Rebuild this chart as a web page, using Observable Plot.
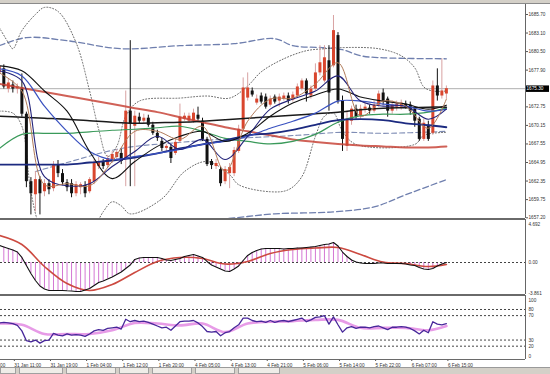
<!DOCTYPE html>
<html><head><meta charset="utf-8">
<script src="https://cdn.jsdelivr.net/npm/d3@7"></script>
<script src="https://cdn.jsdelivr.net/npm/@observablehq/plot@0.6"></script>
<style>
html,body{margin:0;padding:0;background:#fff;}
#wrap{position:relative;width:550px;height:374px;overflow:hidden;background:#fff;font-family:"Liberation Sans",Arial,sans-serif;}
#top{position:absolute;left:0;top:0;width:550px;height:3px;background:#d4d0c8;border-bottom:1px solid #8a8a8a;}
#main,#macd,#rsi{position:absolute;left:0;}
#main{top:0;} #macd{top:218px;} #rsi{top:294px;}
#tabs{position:absolute;left:0;top:367px;width:550px;height:7px;background:#d4d0c8;border-top:1px solid #9a9a9a;display:flex;}
.tab{height:5px;border:1px solid #a0a0a0;border-top:none;background:#efede8;margin-right:3px;}
</style></head><body>
<div id="wrap">
<div id="main"></div><div id="macd"></div><div id="rsi"></div>
<div id="top"></div>
<div id="tabs"><div class="tab" style="width:14px"></div><div class="tab" style="width:42px"></div><div class="tab" style="width:48px"></div><div class="tab" style="width:28px"></div><div class="tab" style="width:38px"></div><div class="tab" style="width:38px"></div><div class="tab" style="width:40px"></div></div>
</div>
<script>
// ---- price bars (H1) ----
const opens = [1677.51,1678.08,1675.25,1675.82,1675.25,1675.40,1671.72,1662.26,1660.43,1662.55,
1660.85,1661.98,1661.28,1664.52,1663.39,1662.12,1661.98,1660.57,1661.42,1661.70,
1660.85,1662.26,1664.38,1664.95,1664.52,1665.09,1665.65,1666.22,1665.37,1672.15,
1670.03,1671.30,1670.74,1671.16,1670.17,1669.04,1667.91,1666.92,1667.07,1666.22,
1667.91,1671.02,1670.74,1670.74,1671.58,1670.74,1668.19,1665.09,1664.38,1663.96,
1662.26,1663.39,1663.39,1666.50,1669.61,1673.98,1674.97,1673.28,1674.27,1674.12,
1672.99,1674.12,1673.56,1673.84,1674.27,1673.70,1674.27,1675.25,1676.38,1674.27,
1675.25,1677.51,1676.38,1679.21,1678.50,1682.74,1673.56,1667.21,1670.74,1672.43,
1671.44,1672.43,1672.57,1672.15,1672.99,1674.69,1673.84,1672.15,1672.71,1672.71,
1673.14,1672.99,1672.43,1671.02,1668.19,1670.17,1669.04,1675.68,1674.27,1674.55];
const closes = [1678.36,1675.54,1676.10,1675.25,1675.54,1671.72,1662.26,1660.57,1662.55,1660.57,
1661.98,1661.13,1664.52,1663.39,1662.12,1661.42,1660.57,1661.84,1661.84,1660.57,
1662.55,1664.81,1665.09,1664.38,1665.51,1666.08,1666.36,1665.09,1672.15,1670.31,
1671.44,1670.74,1671.16,1670.17,1669.04,1668.34,1666.92,1667.21,1665.51,1667.77,
1671.30,1671.44,1671.44,1671.87,1671.02,1668.19,1664.66,1664.52,1664.81,1661.98,
1663.96,1664.24,1666.64,1669.61,1675.40,1675.40,1674.41,1673.84,1673.42,1672.71,
1673.84,1673.42,1674.12,1674.27,1673.56,1674.41,1675.54,1676.38,1674.55,1675.25,
1677.51,1678.93,1679.63,1674.69,1683.44,1673.56,1668.19,1671.02,1672.43,1671.30,
1672.43,1672.71,1672.15,1672.99,1674.55,1673.56,1672.15,1672.99,1673.14,1673.28,
1672.71,1672.15,1670.74,1668.19,1670.45,1668.19,1675.68,1674.27,1674.97,1675.30];
const highs = [1678.93,1678.64,1676.67,1676.38,1675.96,1677.37,1672.01,1662.83,1663.68,1662.97,
1662.55,1662.55,1665.09,1665.23,1663.96,1662.55,1662.55,1662.26,1662.12,1662.26,
1662.83,1665.37,1665.65,1665.37,1665.94,1666.50,1666.78,1666.78,1674.97,1682.03,
1672.15,1671.87,1671.72,1671.58,1670.59,1669.47,1668.34,1667.49,1667.49,1668.19,
1673.14,1671.87,1671.87,1672.43,1672.71,1671.16,1668.48,1665.37,1665.37,1664.38,
1664.38,1664.81,1667.07,1670.17,1676.81,1677.51,1675.40,1674.41,1674.69,1674.55,
1674.27,1674.41,1674.55,1674.69,1674.69,1674.83,1675.96,1676.67,1676.67,1675.68,
1678.78,1681.33,1681.33,1681.33,1685.56,1683.16,1674.27,1672.15,1672.85,1672.99,
1672.99,1673.28,1672.99,1673.56,1674.97,1675.25,1674.12,1673.56,1673.56,1673.70,
1673.56,1673.42,1672.71,1671.30,1671.02,1670.74,1676.38,1678.08,1679.49,1675.68];
const lows = [1676.95,1675.25,1674.69,1674.69,1674.55,1671.30,1661.42,1657.60,1658.03,1657.60,
1660.15,1660.43,1660.85,1662.83,1661.70,1660.85,1660.01,1660.15,1660.43,1660.01,
1660.57,1661.84,1663.96,1663.96,1664.10,1664.81,1665.09,1664.66,1661.56,1661.56,
1661.56,1670.31,1670.45,1669.89,1668.76,1667.91,1666.50,1666.50,1664.81,1665.94,
1667.63,1670.74,1670.45,1670.45,1670.74,1667.91,1664.38,1663.96,1663.96,1661.56,
1661.84,1661.28,1662.97,1666.22,1669.32,1673.56,1674.12,1672.99,1673.14,1672.43,
1672.71,1673.14,1672.71,1673.56,1673.14,1673.42,1673.98,1674.97,1673.42,1673.84,
1674.97,1677.09,1676.10,1672.15,1678.22,1673.14,1666.50,1666.50,1670.17,1671.02,
1671.02,1671.87,1671.72,1671.87,1672.71,1672.99,1671.30,1671.72,1672.15,1672.29,
1672.43,1671.58,1669.89,1667.91,1667.91,1667.91,1668.76,1673.56,1673.84,1673.84];
const lastPrice = 1675.30;

// ---- moving averages, read every 5 bars ----
const maIdx = [0,5,10,15,20,25,30,35,40,45,50,55,60,65,70,75,80,85,90,95,99];
const maRedLong = [1675.96,1675.40,1674.83,1674.27,1673.70,1673.14,1672.57,1672.01,1671.30,1670.59,1669.89,1669.32,1668.76,1668.19,1667.84,1667.56,1667.35,1667.21,1667.07,1667.07,1667.21];
const maBlackLong = [1671.44,1671.30,1671.16,1671.02,1670.81,1670.59,1670.45,1670.52,1670.59,1670.74,1670.95,1671.16,1671.37,1671.58,1671.79,1672.01,1672.36,1672.57,1672.64,1672.71,1672.71];
const maGreen = [1666.92,1668.90,1669.04,1669.04,1669.25,1669.47,1669.61,1669.82,1670.03,1669.32,1668.34,1667.91,1667.56,1667.91,1668.90,1670.59,1671.51,1671.72,1671.72,1672.01,1672.57];
const maNavy = [1664.66,1664.66,1664.66,1664.66,1664.95,1665.23,1665.65,1666.22,1666.92,1667.49,1668.05,1668.76,1669.04,1669.54,1670.24,1670.88,1671.02,1670.88,1670.45,1670.17,1669.89];
const maBlueMid = [1678.08,1677.09,1672.85,1669.32,1666.50,1665.37,1665.79,1666.22,1666.78,1667.49,1667.91,1668.62,1669.75,1670.74,1671.87,1673.56,1673.56,1673.14,1672.85,1672.15,1672.43];
const maBlackMid = [1678.50,1677.80,1674.97,1672.15,1666.50,1662.69,1665.09,1667.21,1668.62,1669.32,1667.91,1669.04,1671.44,1673.28,1674.41,1675.25,1674.12,1673.56,1673.14,1672.43,1672.99];
const maBlueFast = [1677.80,1676.38,1662.97,1661.70,1661.98,1664.38,1666.50,1668.62,1666.78,1668.19,1665.37,1668.62,1672.43,1673.84,1674.97,1677.09,1673.56,1672.85,1672.85,1671.02,1672.43];
const maTanFast = [1677.51,1674.97,1661.84,1661.98,1661.70,1665.09,1669.32,1669.32,1668.19,1670.03,1663.68,1670.74,1673.84,1673.98,1675.96,1678.93,1671.44,1673.56,1672.85,1669.75,1673.84];

// ---- Bollinger bands (dotted) ----
const bbUpIdx = [0,2,3,5,8,10,13,17,20,22,24,26,28,31,40,46,51,55,58,63,68,72,75,84,89,92,94,96,99];
const bbUp = [1683.87,1681.75,1680.90,1683.44,1685.70,1686.69,1686.13,1681.75,1674.97,1669.61,1665.79,1667.21,1671.44,1673.56,1673.98,1674.27,1673.98,1675.68,1677.66,1679.49,1680.62,1680.90,1681.04,1680.90,1679.91,1678.22,1675.54,1674.97,1674.97];
const bbLoIdx = [0,3,5,7,9,12,17,21,23,25,27,29,36,41,46,51,53,60,64,67,70,72,74,76,79,92,94,99];
const bbLo = [1672.15,1671.87,1670.03,1660.85,1655.91,1653.09,1653.80,1655.91,1658.03,1659.44,1658.87,1657.75,1659.86,1663.68,1665.09,1663.25,1661.84,1660.85,1661.13,1662.97,1668.62,1671.44,1671.87,1669.32,1667.49,1667.49,1668.76,1669.18];

// ---- envelopes (dashed) ----
const envUpIdx = [0,6,15,27,40,52,61,65,72,76,80,85,99];
const envUp = [1681.33,1682.46,1682.03,1680.90,1681.33,1681.61,1682.31,1681.33,1681.04,1680.76,1679.91,1679.63,1679.49];
const envLoIdx = [33,43,52,61,74,83,90,99];
const envLo = [1655.77,1656.60,1657.18,1657.75,1658.03,1658.73,1660.43,1662.55];
const envMidIdx = [8,15,27,40,53,66,76,85,99];
const envMid = [1663.68,1664.95,1666.92,1667.77,1668.34,1668.76,1669.18,1669.04,1669.32];

// ---- MACD ----
const macd = [2.13,1.94,1.75,1.56,1.31,0.63,-0.38,-1.38,-2.25,-2.94,
-3.31,-3.50,-3.50,-3.50,-3.50,-3.54,-3.56,-3.63,-3.63,-3.44,
-3.25,-2.88,-2.50,-2.31,-2.06,-1.81,-1.50,-1.19,-0.75,-0.31,
0.38,0.56,0.63,0.63,0.63,0.63,0.50,0.31,0.25,0.38,
0.50,0.75,0.88,1.00,0.81,0.63,0.13,-0.31,-0.56,-0.81,
-1.06,-1.13,-0.81,-0.44,0.25,0.88,1.25,1.50,1.69,1.75,
1.75,1.75,1.75,1.69,1.75,1.75,1.81,1.81,1.88,1.94,
2.00,2.13,2.25,2.31,2.50,2.06,1.31,0.75,0.31,0.06,
-0.06,-0.13,-0.13,-0.13,-0.06,-0.06,-0.13,-0.13,-0.13,-0.13,
-0.19,-0.31,-0.38,-0.63,-0.81,-0.88,-0.75,-0.44,-0.19,0.00];
const macdSignal = [3.38,2.25,-0.50,-2.63,-3.50,-2.75,-1.25,0.13,0.63,0.50,-0.19,0.13,1.13,1.63,1.81,1.88,1.00,0.06,-0.13,-0.50,-0.25];
const macdTicks = [4.692, 0, -3.861];

// ---- RSI ----
const rsi = [58,59,58,57,54,45,29,27,30,25,
29,30,41,38,37,40,38,39,38,36,
40,45,47,46,49,50,51,48,64,60,
62,60,61,59,56,53,50,51,46,53,
60,61,61,62,58,52,44,43,44,37,
42,44,50,55,66,66,62,60,61,59,
62,59,61,62,60,62,64,66,60,63,
67,68,70,56,68,55,43,50,52,49,
51,51,50,52,53,50,47,51,51,52,
51,49,45,40,46,42,60,56,55,57];
const rsiSmooth = [57,55,40,40,40,46,58,57,54,57,43,57,60,61,63,63,50,50,50,46,53];
const rsiLevels = [80,70,30,20];

// ---- axes ----
const priceTicks = [1685.70,1683.10,1680.50,1677.90,1672.75,1670.15,1667.55,1664.95,1662.35,1659.75,1657.20];
const timeTickIdx = [-5,3,11,19,27,35,43,51,59,67,75,83,91,99];
const timeTickText = ["31 Jan 03:00","31 Jan 11:00","31 Jan 19:00","1 Feb 04:00","1 Feb 12:00","1 Feb 20:00","4 Feb 05:00","4 Feb 13:00","4 Feb 21:00","5 Feb 06:00","5 Feb 14:00","5 Feb 22:00","6 Feb 07:00","6 Feb 15:00"];

const X_DOMAIN = [0.266, 116.52];
const Y_PRICE = [1657.10, 1687.10];
const Y_MACD = [-4.0, 5.375];
const Y_RSI = [-1.8, 102.9];

const STYLE = "background:transparent;overflow:visible;font-family:'Liberation Sans',Arial,sans-serif;font-size:4.7px;color:#333;";
const pts = (idx, vals) => idx.map((i, k) => ({i, v: vals[k]}));
const bars = opens.map((o, i) => ({i, o, c: closes[i], h: highs[i], l: lows[i]}));
const up = bars.filter(d => d.c >= d.o), down = bars.filter(d => d.c < d.o);
const frameRight = [X_DOMAIN[1]];

const ma = (idx, vals, stroke, w, extra = {}) =>
  Plot.line(pts(idx, vals), {x: "i", y: "v", stroke, strokeWidth: w, curve: "catmull-rom", clip: true, ...extra});

const mainChart = Plot.plot({
  width: 550, height: 219, marginLeft: 0, marginRight: 25, marginTop: 4, marginBottom: 1,
  style: STYLE,
  x: {domain: X_DOMAIN, axis: null},
  y: {domain: Y_PRICE},
  marks: [
    Plot.ruleY([lastPrice], {stroke: "#b0b0b0", clip: true}),
    ma(envMidIdx, envMid, "#7f8db5", 1.1, {strokeDasharray: "5,3"}),
    ma(envUpIdx, envUp, "#6f7fae", 1.3, {strokeDasharray: "6,3"}),
    ma(envLoIdx, envLo, "#6f7fae", 1.3, {strokeDasharray: "6,3"}),
    ma(bbUpIdx, bbUp, "#666", 1, {strokeDasharray: "1,2"}),
    ma(bbLoIdx, bbLo, "#666", 1, {strokeDasharray: "1,2"}),
    Plot.ruleX(up, {x: "i", y1: "l", y2: "h", stroke: "#d8a2a2", clip: true}),
    Plot.ruleX(down, {x: "i", y1: "l", y2: "h", stroke: "#111", clip: true}),
    Plot.ruleX(up, {x: "i", y1: "o", y2: "c", stroke: "#d9462e", strokeWidth: 3, clip: true}),
    Plot.ruleX(down, {x: "i", y1: "o", y2: "c", stroke: "#111", strokeWidth: 3, clip: true}),
    ma(maIdx, maRedLong, "#c8453a", 2, {strokeOpacity: 0.85}),
    ma(maIdx, maGreen, "#3a9a5a", 1.2),
    ma(maIdx, maBlackLong, "#1a1a1a", 1.5),
    ma(maIdx, maNavy, "#1c2a80", 1.8),
    ma(maIdx, maBlueMid, "#3a52c0", 1.2),
    ma(maIdx, maBlackMid, "#111", 1.1),
    ma(maIdx, maBlueFast, "#23237a", 1.1),
    ma(maIdx, maTanFast, "#b07a58", 1),
    Plot.axisY(priceTicks, {anchor: "right", tickSize: 2, tickPadding: 1, tickFormat: ".2f", label: null, fill: "#333", stroke: "#555"}),
    Plot.axisY([lastPrice], {anchor: "right", tickSize: 23, tickPadding: -22, strokeWidth: 6.5, stroke: "#000", fill: "#fff", tickFormat: ".2f", label: null}),
    Plot.ruleX(frameRight, {stroke: "#666"}),
    Plot.ruleY([Y_PRICE[0]], {stroke: "#6a6a6a"})
  ]
});
document.getElementById("main").append(mainChart);

const macdBars = macd.map((v, i) => ({i, v}));
const macdChart = Plot.plot({
  width: 550, height: 77, marginLeft: 0, marginRight: 25, marginTop: 1, marginBottom: 1,
  style: STYLE,
  x: {domain: X_DOMAIN, axis: null},
  y: {domain: Y_MACD},
  marks: [
    Plot.ruleX(macdBars, {x: "i", y1: 0, y2: "v", stroke: "#d477d4", clip: true}),
    Plot.ruleY([0], {stroke: "#444", strokeDasharray: "2,2"}),
    Plot.line(pts(maIdx, macdSignal), {x: "i", y: "v", stroke: "#cc4a40", strokeWidth: 1.6, curve: "catmull-rom", clip: true}),
    Plot.line(macdBars, {x: "i", y: "v", stroke: "#111", strokeWidth: 1.1, clip: true}),
    Plot.axisY(macdTicks, {anchor: "right", tickSize: 0, tickPadding: 3, tickFormat: d => d === 0 ? "0.00" : String(d), label: null, fill: "#333"}),
    Plot.ruleX(frameRight, {stroke: "#666"}),
    Plot.ruleY([Y_MACD[1]], {stroke: "#6a6a6a"}),
    Plot.ruleY([Y_MACD[0]], {stroke: "#6a6a6a"})
  ]
});
document.getElementById("macd").append(macdChart);

const timeLabel = new Map(timeTickIdx.map((d, k) => [d, timeTickText[k]]));
const rsiChart = Plot.plot({
  width: 550, height: 73, marginLeft: 0, marginRight: 25, marginTop: 1, marginBottom: 8,
  style: STYLE,
  x: {domain: X_DOMAIN},
  y: {domain: Y_RSI},
  marks: [
    Plot.ruleY(rsiLevels, {stroke: "#444", strokeDasharray: "2,2"}),
    Plot.line(pts(maIdx, rsiSmooth), {x: "i", y: "v", stroke: "#e79be7", strokeWidth: 2.6, curve: "catmull-rom", clip: true}),
    Plot.line(rsi.map((v, i) => ({i, v})), {x: "i", y: "v", stroke: "#47279a", strokeWidth: 1.3, clip: true}),
    Plot.axisY([100], {anchor: "right", tickSize: 0, tickPadding: 3, dy: 3, label: null, fill: "#333"}),
    Plot.axisY(rsiLevels, {anchor: "right", tickSize: 0, tickPadding: 3, label: null, fill: "#333"}),
    Plot.axisY([0], {anchor: "right", tickSize: 0, tickPadding: 3, dy: -2, label: null, fill: "#333"}),
    Plot.axisX(timeTickIdx, {anchor: "bottom", tickSize: 2, tickPadding: 2, textAnchor: "start", dx: 1.5, tickFormat: d => timeLabel.get(d), label: null, fill: "#333", stroke: "#555"}),
    Plot.ruleX(frameRight, {stroke: "#666"}),
    Plot.ruleY([Y_RSI[1]], {stroke: "#6a6a6a"}),
    Plot.ruleY([Y_RSI[0]], {stroke: "#6a6a6a"})
  ]
});
document.getElementById("rsi").append(rsiChart);
</script>
</body></html>
